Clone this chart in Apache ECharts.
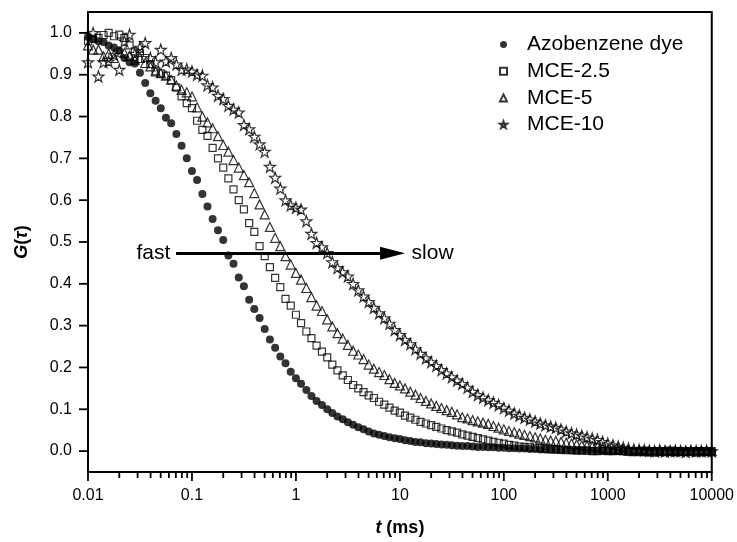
<!DOCTYPE html>
<html>
<head>
<meta charset="utf-8">
<script src="https://cdn.jsdelivr.net/npm/echarts@6/dist/echarts.min.js"></script>
<style>
html,body{margin:0;padding:0;background:#fff;}
#chart{width:737px;height:542px;}
</style>
</head>
<body>
<div id="chart"></div>
<script>
// lag times t (ms)
const lagTimes = [
  0.01,0.0112,0.0126,0.0141,0.0158,0.0178,0.02,0.0224,0.0251,0.0282,0.0316,0.0355,0.0398,0.0447,0.0501,0.0562,0.0631,0.0708,0.0794,0.0891,
  0.1,0.112,0.126,0.141,0.158,0.178,0.2,0.224,0.251,0.282,0.316,0.355,0.398,0.447,0.501,0.562,0.631,0.708,0.794,0.891,
  1,1.12,1.26,1.41,1.58,1.78,2,2.24,2.51,2.82,3.16,3.55,3.98,4.47,5.01,5.62,6.31,7.08,7.94,8.91,
  10,11.2,12.6,14.1,15.8,17.8,20,22.4,25.1,28.2,31.6,35.5,39.8,44.7,50.1,56.2,63.1,70.8,79.4,89.1,
  100,112,126,141,158,178,200,224,251,282,316,355,398,447,501,562,631,708,794,891,
  1000,1120,1260,1410,1580,1780,2000,2240,2510,2820,3160,3550,3980,4470,5010,5620,6310,7080,7940,8910,
  10000
];
const gDye = [
  0.99,0.985,0.98,0.978,0.97,0.965,0.958,0.94,0.93,0.927,0.905,0.88,0.856,0.838,0.82,0.797,0.784,0.758,0.73,0.70,
  0.67,0.648,0.615,0.585,0.555,0.528,0.505,0.468,0.448,0.415,0.394,0.362,0.34,0.318,0.292,0.267,0.247,0.226,0.21,0.19,
  0.174,0.161,0.146,0.132,0.12,0.11,0.1,0.091,0.083,0.076,0.069,0.063,0.057,0.052,0.047,0.042,0.039,0.036,0.033,0.031,
  0.029,0.026,0.024,0.022,0.021,0.019,0.018,0.017,0.016,0.015,0.014,0.013,0.012,0.012,0.011,0.010,0.010,0.009,0.009,0.008,
  0.008,0.007,0.007,0.006,0.006,0.005,0.005,0.004,0.004,0.004,0.003,0.003,0.003,0.002,0.002,0.002,0.002,0.001,0.001,0.001,
  0.001,0.001,0.0,0.001,0.0,0.0,0.001,0.0,-0.001,0.0,0.001,0.0,0.0,-0.001,0.0,0.001,0.0,0.0,0.0,-0.001,
  0.0
];
const gMce25 = [
  0.98,0.986,0.988,0.995,1.0,0.992,0.996,0.988,0.97,0.956,0.952,0.94,0.925,0.908,0.903,0.898,0.887,0.869,0.848,0.832,
  0.82,0.79,0.768,0.754,0.725,0.70,0.678,0.652,0.626,0.60,0.578,0.545,0.524,0.49,0.466,0.44,0.414,0.392,0.364,0.348,
  0.326,0.306,0.286,0.27,0.252,0.238,0.224,0.207,0.193,0.181,0.17,0.158,0.15,0.141,0.133,0.127,0.118,0.111,0.104,0.097,
  0.092,0.085,0.08,0.075,0.07,0.066,0.062,0.058,0.054,0.05,0.047,0.044,0.04,0.037,0.034,0.031,0.028,0.025,0.022,0.02,
  0.018,0.015,0.013,0.011,0.010,0.009,0.008,0.007,0.005,0.004,0.004,0.003,0.002,0.002,0.001,0.001,0.001,0.0,0.0,0.001,
  0.0,0.0,0.001,0.0,-0.001,0.0,0.0,0.001,0.0,0.0,-0.001,0.0,0.001,0.0,0.0,0.0,-0.001,0.0,0.0,0.0,
  0.0
];
const gMce5 = [
  0.97,0.96,0.96,0.944,0.95,0.94,0.955,0.952,0.945,0.936,0.94,0.928,0.92,0.908,0.904,0.898,0.888,0.874,0.864,0.858,
  0.848,0.822,0.80,0.786,0.772,0.753,0.732,0.716,0.696,0.678,0.66,0.643,0.617,0.59,0.566,0.536,0.51,0.49,0.466,0.446,
  0.426,0.41,0.39,0.368,0.348,0.335,0.315,0.298,0.282,0.269,0.254,0.24,0.231,0.22,0.207,0.197,0.189,0.182,0.172,0.163,
  0.157,0.15,0.142,0.135,0.127,0.12,0.114,0.108,0.103,0.098,0.094,0.088,0.081,0.078,0.074,0.071,0.068,0.065,0.06,0.056,
  0.052,0.048,0.045,0.042,0.039,0.036,0.033,0.03,0.027,0.025,0.024,0.022,0.02,0.018,0.016,0.014,0.013,0.011,0.01,0.007,
  0.005,0.004,0.003,0.002,0.001,0.0,0.001,0.0,0.0,-0.001,0.0,0.001,0.0,0.0,0.0,0.001,0.0,-0.001,0.0,0.0,
  0.0
];
const gMce10 = [
  0.93,1.0,0.896,0.93,0.932,0.948,0.912,0.98,0.996,0.95,0.965,0.976,0.94,0.93,0.96,0.932,0.94,0.925,0.912,0.913,
  0.908,0.90,0.898,0.875,0.87,0.85,0.842,0.826,0.817,0.81,0.78,0.77,0.752,0.734,0.716,0.68,0.654,0.628,0.60,0.588,
  0.582,0.578,0.55,0.52,0.498,0.488,0.474,0.452,0.438,0.428,0.418,0.40,0.385,0.37,0.357,0.343,0.33,0.318,0.305,0.29,
  0.278,0.266,0.256,0.244,0.233,0.222,0.213,0.204,0.194,0.186,0.177,0.169,0.161,0.152,0.142,0.134,0.128,0.122,0.116,0.11,
  0.103,0.097,0.09,0.085,0.08,0.076,0.071,0.066,0.062,0.059,0.056,0.052,0.047,0.043,0.04,0.037,0.033,0.03,0.027,0.022,
  0.018,0.014,0.011,0.008,0.006,0.004,0.003,0.002,0.001,0.0,0.002,-0.001,0.0,0.001,0.0,-0.002,0.001,0.0,0.0,0.001,
  0.0
];
const seriesNames = ['Azobenzene dye', 'MCE-2.5', 'MCE-5', 'MCE-10'];
const xTickLabels = [0.01, 0.1, 1, 10, 100, 1000, 10000];
const yTickLabels = [0.0, 0.1, 0.2, 0.3, 0.4, 0.5, 0.6, 0.7, 0.8, 0.9, 1.0];
const arrowStart = [0.0706, 0.473];
const arrowEnd = [8.5, 0.473];

const X_MIN = 0.01, X_MAX = 10000, Y_MIN = -0.05, Y_MAX = 1.05;
const FONT = "'Liberation Sans', Arial, sans-serif";
const starPath = 'path://M50,0 L61.8,35.1 L98.9,35.5 L69.1,57.6 L80.3,93 L50,71.5 L19.7,93 L30.9,57.6 L1.1,35.5 L38.2,35.1 Z';

function pairs(arr) { return lagTimes.map((t, i) => [t, arr[i]]); }
const hollow = { color: 'rgba(0,0,0,0)', borderColor: '#000', borderWidth: 1.2 };

const errs = [];
const chart = echarts.init(document.getElementById('chart'));
try {
chart.setOption({
  animation: false,
  grid: { left: 88, right: 25, top: 12, bottom: 70, show: true, borderColor: '#000', borderWidth: 2 },
  legend: {
    orient: 'vertical',
    left: 494, top: 29,
    itemWidth: 7, itemHeight: 7,
    itemGap: 5.7,
    data: seriesNames,
    textStyle: { fontFamily: FONT, fontSize: 21, color: '#000', lineHeight: 21, padding: [0, 0, 0, 15] }
  },
  xAxis: {
    type: 'log', min: X_MIN, max: X_MAX,
    axisLine: { onZero: false, lineStyle: { color: '#000', width: 2 } },
    axisTick: { show: false },
    axisLabel: { fontFamily: FONT, fontSize: 16, color: '#000', margin: 16,
      formatter: v => String(+(+v).toPrecision(6)) },
    splitLine: { show: false },
    name: '{i|t} (ms)', nameLocation: 'middle', nameGap: 47,
    nameTextStyle: { fontFamily: FONT, fontSize: 18, fontWeight: 'bold', color: '#000',
      rich: { i: { fontFamily: FONT, fontSize: 18, fontWeight: 'bold', fontStyle: 'italic', color: '#000' } } }
  },
  yAxis: {
    type: 'value', min: Y_MIN, max: Y_MAX,
    axisLine: { onZero: false, lineStyle: { color: '#000', width: 2 } },
    axisTick: { show: false },
    axisLabel: { customValues: yTickLabels, fontFamily: FONT, fontSize: 16, color: '#000', margin: 16,
      formatter: v => (+v).toFixed(1) },
    splitLine: { show: false },
    name: '{i|G}({t|τ})', nameLocation: 'middle', nameGap: 57, nameRotate: 90,
    nameTextStyle: { fontFamily: FONT, fontSize: 18, fontWeight: 'bold', color: '#000',
      rich: {
        i: { fontFamily: FONT, fontSize: 18, fontWeight: 'bold', fontStyle: 'italic', color: '#000' },
        t: { fontFamily: FONT, fontSize: 18, fontWeight: 'bold', fontStyle: 'italic', color: '#000' }
      } }
  },
  series: [
    {
      name: seriesNames[0], type: 'scatter',
      data: pairs(gDye), symbol: 'circle', symbolSize: 8,
      itemStyle: { color: '#000' },
      markLine: {
        silent: true, animation: false,
        lineStyle: { color: '#000', width: 3, type: 'solid' },
        symbol: ['none', 'triangle'], symbolSize: [13, 25],
        data: [
          [ { coord: arrowStart, symbol: 'none' },
            { coord: arrowEnd, symbol: 'triangle',
              label: { show: true, position: 'end', formatter: 'slow', distance: 19, fontFamily: FONT, fontSize: 21, color: '#000' } } ],
          [ { coord: arrowStart, symbol: 'none',
              label: { show: true, position: 'start', formatter: 'fast', distance: 6, fontFamily: FONT, fontSize: 21, color: '#000' } },
            { coord: arrowEnd, symbol: 'none' } ]
        ]
      }
    },
    { name: seriesNames[1], type: 'scatter', data: pairs(gMce25), symbol: 'rect', symbolSize: 7, itemStyle: hollow },
    { name: seriesNames[2], type: 'scatter', data: pairs(gMce5), symbol: 'triangle', symbolSize: 9, itemStyle: hollow },
    { name: seriesNames[3], type: 'scatter', data: pairs(gMce10), symbol: starPath, symbolSize: 11, itemStyle: hollow }
  ]
});
} catch (e) { errs.push('setOption: ' + (e && e.message)); }

// pixel position of a data point through the chart's own scales
function px(v) {
  try {
    const p = chart.convertToPixel({ gridIndex: 0 }, v);
    if (p && isFinite(p[0]) && isFinite(p[1])) return p;
  } catch (e) { errs.push('c2p: ' + (e && e.message)); }
  try {
    const m = chart.getModel();
    const xa = m.getComponent('xAxis', 0).axis, ya = m.getComponent('yAxis', 0).axis;
    const p = [xa.toGlobalCoord(xa.dataToCoord(v[0])), ya.toGlobalCoord(ya.dataToCoord(v[1]))];
    if (isFinite(p[0]) && isFinite(p[1])) return p;
  } catch (e) { errs.push('axis: ' + (e && e.message)); }
  return null;
}

// tick marks drawn directly on the zrender layer
try {
  const zr = chart.getZr();
  const G = echarts.graphic;
  const addTick = (x1, y1, x2, y2) => {
    zr.add(new G.Line({ silent: true, z: 1000, zlevel: 0,
      shape: { x1: x1, y1: y1, x2: x2, y2: y2 },
      style: { stroke: '#000', lineWidth: 1.8 } }));
  };
  for (let d = 0; d < xTickLabels.length; d++) {
    const p = px([xTickLabels[d], Y_MIN]);
    if (p) addTick(p[0], p[1], p[0], p[1] + 9);
    if (d < xTickLabels.length - 1) {
      for (let m = 2; m <= 9; m++) {
        const q = px([xTickLabels[d] * m, Y_MIN]);
        if (q) addTick(q[0], q[1], q[0], q[1] + 6);
      }
    }
  }
  yTickLabels.forEach(v => {
    const p = px([X_MIN, v]);
    if (p) addTick(p[0] - 9, p[1], p[0], p[1]);
  });
  if (errs.length) {
    zr.add(new G.Text({ silent: true, z: 1000,
      style: { text: errs.join(' | ').slice(0, 160), x: 2, y: 532, fontSize: 9, fill: '#999' } }));
  }
} catch (e) {}
</script>
</body>
</html>
